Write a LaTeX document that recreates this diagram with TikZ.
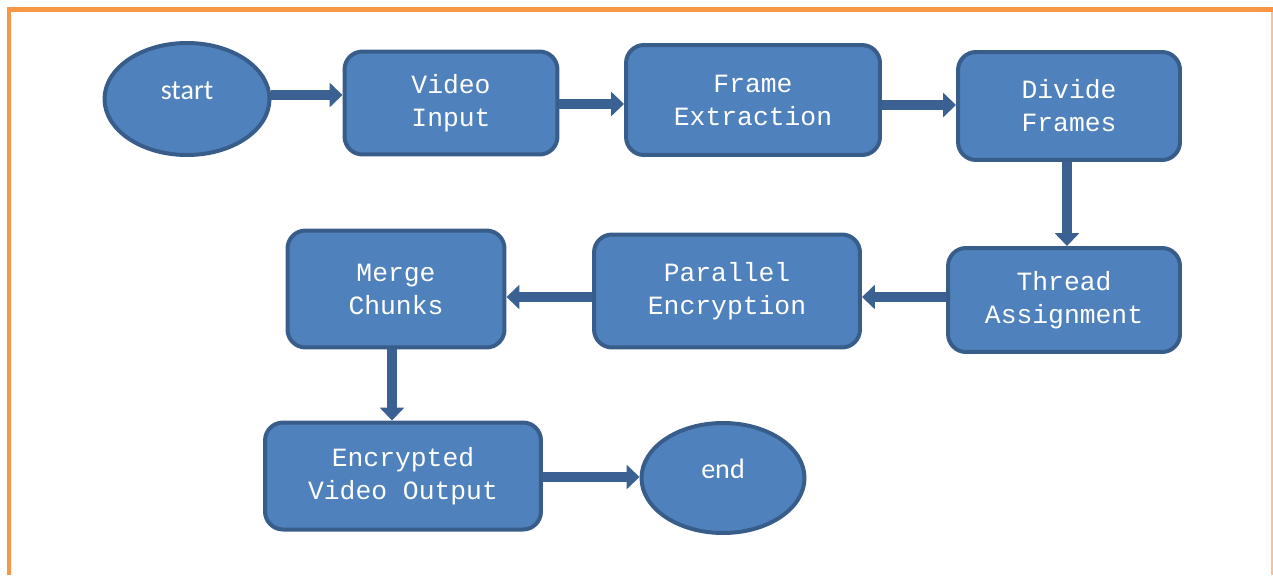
\documentclass[tikz,border=0pt]{standalone}
\usepackage{fontspec}
\usepackage{tikz}
\usetikzlibrary{shapes.geometric,arrows.meta,positioning}
\newfontfamily\boxfont{Liberation Mono}
\newfontfamily\ovalfont{Carlito}
\definecolor{boxblue}{HTML}{4F81BD}
\definecolor{boxline}{HTML}{385D8A}
\definecolor{flowline}{HTML}{3B6192}
\definecolor{framebar}{HTML}{F79646}
\definecolor{framethin}{HTML}{FBC08F}

\begin{document}
\begin{tikzpicture}[x = 0.02cm, y = -0.02cm, thick]
        \tikzstyle{box} = [shape = rectangle, rounded corners = 0.36cm, draw = boxline, line width = 0.08cm, fill = boxblue, text = white, align = center, font = \boxfont\fontsize{15}{18.8}\selectfont]
        \tikzstyle{oval} = [shape = ellipse, draw = boxline, line width = 0.08cm, fill = boxblue, text = white, inner sep = 0pt, text height = 0.35cm, text depth = 0.35cm, font = \ovalfont\fontsize{16}{19}\selectfont]
        \tikzstyle{flow} = [draw = flowline, line width = 0.2cm, -{Triangle[width = 0.48cm, length = 0.26cm]}]
        \useasboundingbox (0, 0) rectangle (1273, 575);
        % frame
        \draw[framethin, line width = 0.03cm] (1272, 9) -- (1272, 575);
        \draw[framebar, line width = 0.1cm] (9, 575) -- (9, 9) -- (1273, 9);
        % first row
        \node[oval] (start) at (187, 99) [minimum width = 3.3cm, minimum height = 2.24cm] {start};
        \node[box] (input) at (451, 103) [minimum width = 4.26cm, minimum height = 2.06cm] {Video\\Input};
        \node[box] (extract) at (753, 100) [minimum width = 5.08cm, minimum height = 2.2cm] {Frame\\Extraction};
        \node[box] (divide) at (1069, 106) [minimum width = 4.44cm, minimum height = 2.16cm] {Divide\\Frames};
        % second row
        \node[box] (thread) at (1064, 300) [minimum width = 4.64cm, minimum height = 2.08cm] {Thread\\Assignment};
        \node[box] (encrypt) at (727, 291) [minimum width = 5.32cm, minimum height = 2.26cm] {Parallel\\Encryption};
        \node[box] (merge) at (396, 289) [minimum width = 4.34cm, minimum height = 2.34cm] {Merge\\Chunks};
        % last row
        \node[box] (output) at (403, 476) [minimum width = 5.52cm, minimum height = 2.14cm] {Encrypted\\Video Output};
        \node[oval] (stop) at (723, 478) [minimum width = 3.26cm, minimum height = 2.2cm] {end};
        % connectors
        \draw[flow] (start.east |- 0, 95) -- (input.west |- 0, 95);
        \draw[flow] (input.east |- 0, 104) -- (extract.west |- 0, 104);
        \draw[flow] (extract.east |- 0, 105) -- (divide.west |- 0, 105);
        \draw[flow] (divide.south -| 1067, 0) -- (thread.north -| 1067, 0);
        \draw[flow] (thread.west |- 0, 297) -- (encrypt.east |- 0, 297);
        \draw[flow] (encrypt.west |- 0, 297) -- (merge.east |- 0, 297);
        \draw[flow] (merge.south -| 392, 0) -- (output.north -| 392, 0);
        \draw[flow] (output.east |- 0, 477) -- (stop.west |- 0, 477);
      \end{tikzpicture}
\end{document}
